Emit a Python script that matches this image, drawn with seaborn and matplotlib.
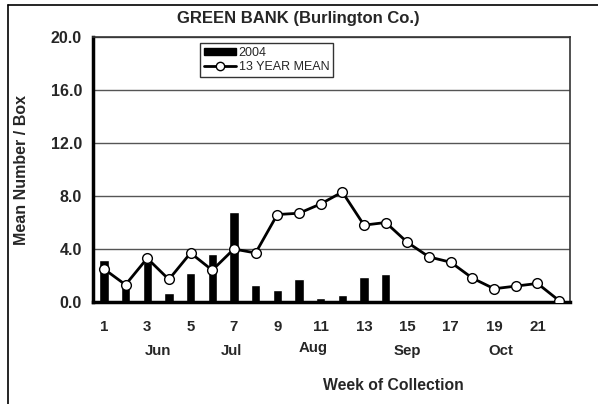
import numpy as np
import pandas as pd
import seaborn as sns
import matplotlib.pyplot as plt
from matplotlib.lines import Line2D
from matplotlib.patches import Patch

weeks = list(range(1, 23))
counts_2004 = [3.2, 1.1, 3.0, 0.7, 2.2, 3.6, 6.8, 1.3, 0.9, 1.7, 0.3, 0.5, 1.9, 2.1,
               0, 0, 0, 0, 0, 0, 0, 0]
mean_13yr = [2.5, 1.3, 3.3, 1.7, 3.7, 2.4, 4.0, 3.7, 6.6, 6.7, 7.4, 8.3, 5.8, 6.0,
             4.5, 3.4, 3.0, 1.8, 1.0, 1.2, 1.4, 0.1]
week_labels = ["1", "3", "5", "7", "9", "11", "13", "15", "17", "19", "21"]
months = ["Jun", "Jul", "Aug", "Sep", "Oct"]
month_pos = [3.5, 6.9, 10.65, 15.0, 19.3]

df = pd.DataFrame({"week": weeks, "y2004": counts_2004, "mean": mean_13yr})

sns.set_style("white")
plt.rcParams["font.family"] = ["Liberation Sans", "DejaVu Sans"]
plt.rcParams["font.weight"] = "bold"

fig = plt.figure(figsize=(5.98, 4.04), dpi=100)
ax = fig.add_axes([93 / 598, 1 - 302 / 404, 477 / 598, 265 / 404])

sns.barplot(data=df, x="week", y="y2004", native_scale=True, color="black",
            width=0.43, saturation=1, ax=ax, zorder=2)
sns.lineplot(data=df, x="week", y="mean", color="black", linewidth=2,
             marker="o", markersize=7, markerfacecolor="white",
             markeredgecolor="black", markeredgewidth=1, ax=ax, zorder=3)

ax.set_xlim(0.5, 22.5)
ax.set_ylim(0, 20)
yt = np.arange(0, 21, 4)
ax.set_yticks(yt)
ax.set_yticklabels([f"{v:.1f}" for v in yt], fontsize=11.5, fontweight="bold")
ax.yaxis.grid(True, color="#555555", linewidth=1)
ax.set_axisbelow(True)

ax.set_xticks(list(range(1, 22, 2)))
ax.set_xticklabels(week_labels, fontsize=10.8, fontweight="bold")
ax.set_xticks(np.arange(0.5, 23, 1), minor=True)
ax.tick_params(axis="x", which="major", length=0, pad=13)
ax.tick_params(axis="x", which="minor", direction="inout", length=8, width=2)
ax.tick_params(axis="y", direction="inout", length=8, width=2, pad=4)

for s in ["left", "bottom"]:
    ax.spines[s].set_linewidth(2.5)
    ax.spines[s].set_color("black")
for s in ["top", "right"]:
    ax.spines[s].set_linewidth(1.2)
    ax.spines[s].set_color("#333333")

ax.set_xlabel("")
ax.set_ylabel("")

for m, p in zip(months, month_pos):
    ax.text(p, -0.185 if m != "Aug" else -0.175, m, transform=ax.get_xaxis_transform(),
            ha="center", va="center", fontsize=10.8, fontweight="bold")

fig.text(393 / 598, 1 - 385 / 404, "Week of Collection", ha="center", va="center",
         fontsize=11.3, fontweight="bold")
fig.text(22 / 598, 1 - 170 / 404, "Mean Number / Box", ha="center", va="center",
         rotation=90, fontsize=11.5, fontweight="bold")
fig.text(298 / 598, 1 - 18 / 404, "GREEN BANK (Burlington Co.)", ha="center",
         va="center", fontsize=12, fontweight="bold")

handles = [Patch(facecolor="black", edgecolor="black"),
           Line2D([], [], color="black", linewidth=2, marker="o", markersize=6,
                  markerfacecolor="white", markeredgecolor="black")]
leg = ax.legend(handles, ["2004", "13 YEAR MEAN"], loc="upper left",
                bbox_to_anchor=(200 / 598, 1 - 43 / 404), bbox_transform=fig.transFigure,
                frameon=True, fancybox=False, shadow=False, borderpad=0.3,
                handlelength=2.6, handleheight=0.5, handletextpad=0.2, labelspacing=0.2,
                prop={"size": 9, "weight": "normal"}, borderaxespad=0)
leg.get_frame().set_edgecolor("black")
leg.get_frame().set_linewidth(1)

fig.add_artist(Line2D([8 / 598, 1], [1 - 5 / 404, 1 - 5 / 404], color="black",
                      linewidth=1.2, transform=fig.transFigure))
fig.add_artist(Line2D([8 / 598, 8 / 598], [0, 1 - 5 / 404], color="black",
                      linewidth=1.2, transform=fig.transFigure))

fig.savefig("out.png", dpi=100)
